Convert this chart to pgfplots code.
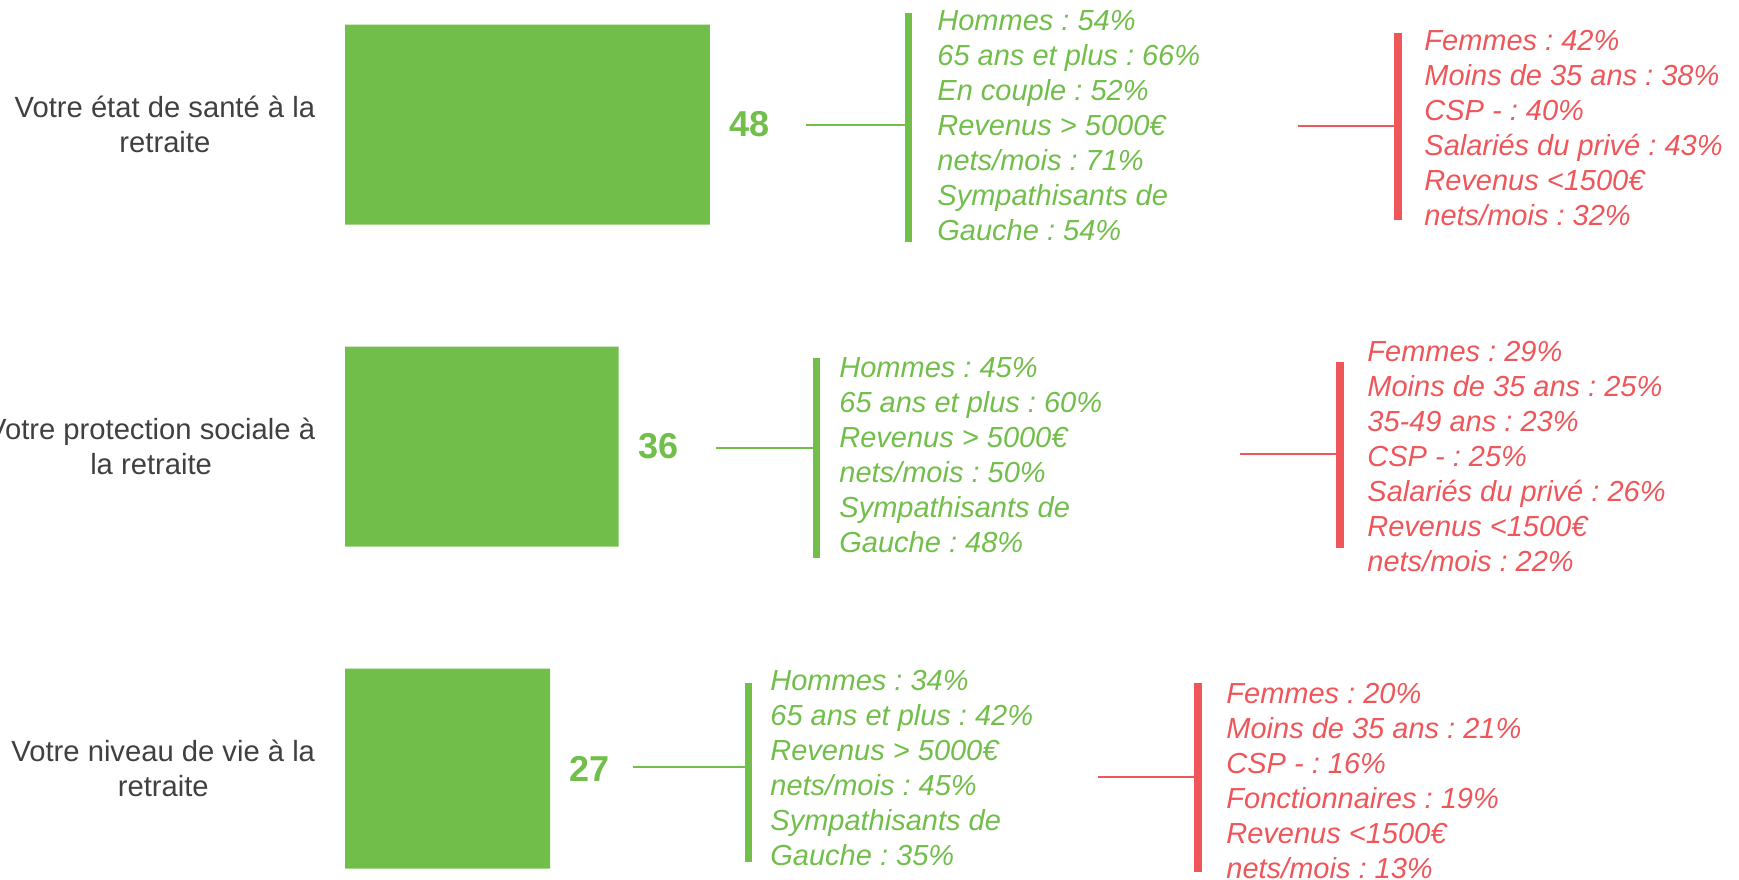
\documentclass[border=0pt]{standalone}
\usepackage{fontspec}
\setmainfont{Liberation Sans}
\usepackage{pgfplots}
\pgfplotsset{compat=1.18}
\definecolor{barg}{RGB}{113,190,74}
\definecolor{redc}{RGB}{239,86,90}
\definecolor{labg}{RGB}{64,64,64}
\frenchspacing
\begin{document}
\begin{tikzpicture}
\begin{axis}[
  at={(172.5pt,0pt)}, anchor=north west,
  scale only axis, width=697pt, height=439.5pt,
  xbar, bar width=0.6211,
  xmin=0, xmax=183.42,
  ymin=0.6134, ymax=3.3432, y dir=reverse,
  ytick={1,2,3},
  yticklabels={{Votre état de santé à la\\retraite},{Votre protection sociale à\\la retraite},{Votre niveau de vie à la\\retraite}},
  yticklabel style={align=center, font=\fontsize{14.6}{17.5}\selectfont, text=labg, inner sep=0pt, xshift=-10.5pt},
  xtick=\empty,
  axis line style={draw=none},
  tick style={draw=none},
  /pgf/number format/assume math mode=true,
  nodes near coords,
  every node near coord/.append style={font=\fontsize{18}{20}\selectfont\bfseries, text=barg, inner sep=0pt, anchor=west, xshift=9.5pt},
  clip=false,
]
\addplot[fill=barg, draw=none] coordinates {(48,1) (36,2) (27,3)};
\end{axis}
\begin{scope}[x=0.5pt, y=-0.5pt]
 \tikzset{gt/.style={anchor=west, align=left, inner sep=0pt, text=barg, font=\fontsize{14.5}{17.5}\selectfont\itshape},
          rt/.style={anchor=west, align=left, inner sep=0pt, text=redc, font=\fontsize{14.5}{17.5}\selectfont\itshape}}
 % row 1
 \draw[barg, line width=1.25pt] (806,125) -- (907,125);
 \draw[barg, line width=3.5pt] (908,13) -- (908,242);
 \node[gt] at (937,126) {Hommes : 54\%\\65 ans et plus : 66\%\\En couple : 52\%\\Revenus > 5000€\\nets/mois : 71\%\\Sympathisants de\\Gauche : 54\%};
 \draw[redc, line width=1.25pt] (1298,126) -- (1396,126);
 \draw[redc, line width=4pt] (1398,33) -- (1398,220);
 \node[rt] at (1424,128) {Femmes : 42\%\\Moins de 35 ans : 38\%\\CSP - : 40\%\\Salariés du privé : 43\%\\Revenus <1500€\\nets/mois : 32\%};
 % row 2
 \draw[barg, line width=1.25pt] (716,448) -- (815,448);
 \draw[barg, line width=3.5pt] (816,358) -- (816,558);
 \node[gt] at (839,455) {Hommes : 45\%\\65 ans et plus : 60\%\\Revenus > 5000€\\nets/mois : 50\%\\Sympathisants de\\Gauche : 48\%};
 \draw[redc, line width=1.25pt] (1240,454) -- (1338,454);
 \draw[redc, line width=4pt] (1340,362) -- (1340,548);
 \node[rt] at (1367,457) {Femmes : 29\%\\Moins de 35 ans : 25\%\\35-49 ans : 23\%\\CSP - : 25\%\\Salariés du privé : 26\%\\Revenus <1500€\\nets/mois : 22\%};
 % row 3
 \draw[barg, line width=1.25pt] (633,767) -- (747,767);
 \draw[barg, line width=3.5pt] (748.5,683) -- (748.5,862);
 \node[gt] at (770,768.5) {Hommes : 34\%\\65 ans et plus : 42\%\\Revenus > 5000€\\nets/mois : 45\%\\Sympathisants de\\Gauche : 35\%};
 \draw[redc, line width=1.25pt] (1098,777) -- (1196,777);
 \draw[redc, line width=4pt] (1198,683) -- (1198,872);
 \node[rt] at (1226,781) {Femmes : 20\%\\Moins de 35 ans : 21\%\\CSP - : 16\%\\Fonctionnaires : 19\%\\Revenus <1500€\\nets/mois : 13\%};
\end{scope}
\pgfresetboundingbox
\useasboundingbox (0,0) rectangle (869.5pt,-439.5pt);
\end{tikzpicture}
\end{document}
